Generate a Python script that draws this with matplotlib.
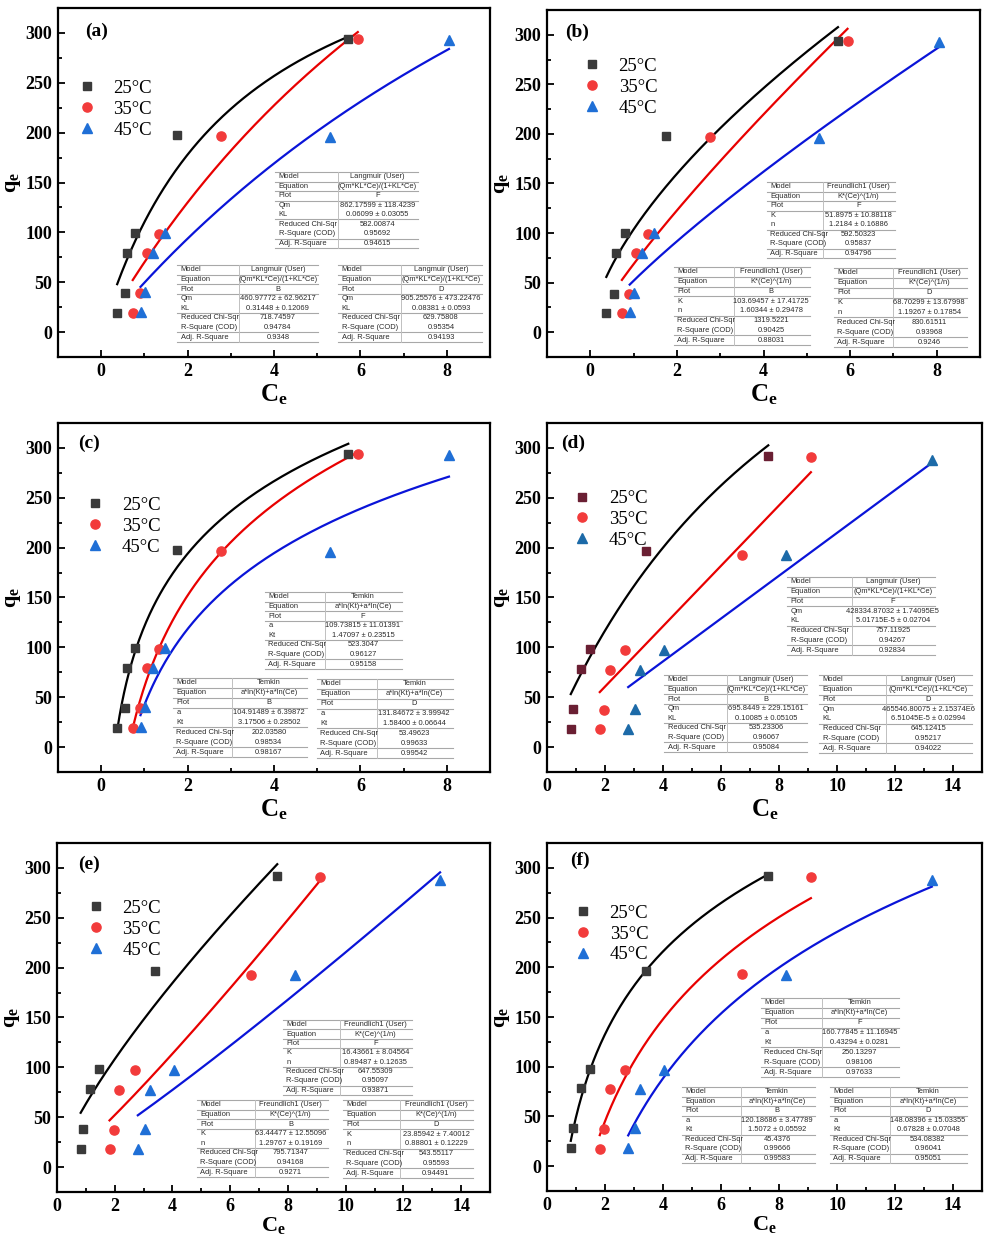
import numpy as np
import matplotlib
matplotlib.use("Agg")
import matplotlib.pyplot as plt
from matplotlib.ticker import MultipleLocator
from matplotlib.patches import Rectangle
from matplotlib.lines import Line2D

plt.rcParams.update({
    "font.family": ["Liberation Serif", "DejaVu Serif"],
    "mathtext.fontset": "custom",
    "mathtext.rm": "Liberation Serif",
    "mathtext.bf": "Liberation Serif:bold",
    "mathtext.it": "Liberation Serif:italic",
})

# ---------------- equilibrium data ----------------
temps = ["25°C", "35°C", "45°C"]
plot_ids = ["B", "D", "F"]

# first series (panels a-c)
ce_25_1 = [0.37, 0.54, 0.60, 0.79, 1.75, 5.72]
qe_25_1 = [19.4, 39.0, 79.5, 99.6, 197.8, 293.7]
ce_35_1 = [0.73, 0.90, 1.05, 1.33, 2.77, 5.94]
qe_35_1 = [19.4, 39.0, 79.5, 98.6, 196.8, 293.7]
ce_45_1 = [0.91, 1.02, 1.19, 1.48, 5.29, 8.05]
qe_45_1 = [20.0, 40.0, 79.5, 99.6, 195.8, 293.0]

# second series (panels d-f)
ce_25_2 = [0.82, 0.91, 1.16, 1.47, 3.41, 7.63]
qe_25_2 = [18.4, 38.1, 78.6, 98.0, 196.3, 292.0]
ce_35_2 = [1.82, 1.98, 2.16, 2.69, 6.71, 9.10]
qe_35_2 = [17.7, 37.5, 77.6, 97.0, 193.0, 290.6]
ce_45_2 = [2.80, 3.05, 3.22, 4.04, 8.23, 13.27]
qe_45_2 = [18.4, 38.5, 77.6, 97.0, 192.6, 287.6]

# ---------------- fitted isotherm parameters (B = 25, D = 35, F = 45 °C) ----------------
langmuir_1 = {
    "B": ["460.97772 ± 62.96217", "0.31448 ± 0.12069", "718.74597", "0.94784", "0.9348"],
    "D": ["905.25576 ± 473.22476", "0.08381 ± 0.0593", "629.75808", "0.95354", "0.94193"],
    "F": ["862.17599 ± 118.4239", "0.06099 ± 0.03055", "582.00874", "0.95692", "0.94615"],
}
freundlich_1 = {
    "B": ["103.69457 ± 17.41725", "1.60344 ± 0.29478", "1319.5221", "0.90425", "0.88031"],
    "D": ["68.70299 ± 13.67998", "1.19267 ± 0.17854", "830.61511", "0.93968", "0.9246"],
    "F": ["51.8975 ± 10.88118", "1.2184 ± 0.16886", "592.50323", "0.95837", "0.94796"],
}
temkin_1 = {
    "B": ["104.91489 ± 6.39872", "3.17506 ± 0.28502", "202.03580", "0.98534", "0.98167"],
    "D": ["131.84672 ± 3.99942", "1.58400 ± 0.06644", "53.49623", "0.99633", "0.99542"],
    "F": ["109.73815 ± 11.01391", "1.47097 ± 0.23515", "523.3047", "0.96127", "0.95158"],
}
langmuir_2 = {
    "B": ["695.8449 ± 229.15161", "0.10085 ± 0.05105", "535.23306", "0.96067", "0.95084"],
    "D": ["465546.80075 ± 2.15374E6", "6.51045E-5 ± 0.02994", "645.12415", "0.95217", "0.94022"],
    "F": ["428334.87032 ± 1.74095E5", "5.01715E-5 ± 0.02704", "757.11925", "0.94267", "0.92834"],
}
freundlich_2 = {
    "B": ["63.44477 ± 12.55096", "1.29767 ± 0.19169", "795.71347", "0.94168", "0.9271"],
    "D": ["23.85942 ± 7.40012", "0.88801 ± 0.12229", "543.55117", "0.95593", "0.94491"],
    "F": ["16.43661 ± 8.04564", "0.89487 ± 0.12635", "647.55309", "0.95097", "0.93871"],
}
temkin_2 = {
    "B": ["120.18686 ± 3.47789", "1.5072 ± 0.05592", "45.4376", "0.99666", "0.99583"],
    "D": ["148.08396 ± 15.03355", "0.67828 ± 0.07048", "534.08382", "0.96041", "0.95051"],
    "F": ["160.77845 ± 11.16945", "0.43294 ± 0.0281", "250.13297", "0.98106", "0.97633"],
}


def langmuir(ce, qm, kl):
    return qm * kl * ce / (1 + kl * ce)


def freundlich(ce, k, n):
    return k * ce ** (1.0 / n)


def temkin(ce, a, kt):
    return a * np.log(kt * ce)


MODELS = {
    "langmuir": ("Langmuir (User)", "(Qm*KL*Ce)/(1+KL*Ce)", ["Qm", "KL"], langmuir),
    "freundlich": ("Freundlich1 (User)", "K*(Ce)^(1/n)", ["K", "n"], freundlich),
    "temkin": ("Temkin", "a*ln(Kt)+a*ln(Ce)", ["a", "Kt"], temkin),
}

FIG_W, FIG_H = 984, 1235
fig = plt.figure(figsize=(FIG_W / 100, FIG_H / 100), dpi=100)
fig.patch.set_facecolor("white")


def px_axes(x0, y0, x1, y1):
    return fig.add_axes([x0 / FIG_W, 1 - y1 / FIG_H, (x1 - x0) / FIG_W, (y1 - y0) / FIG_H])


def value_of(txt):
    return float(txt.split("±")[0].strip())


def draw_table(box, model_key, plot_id, entry):
    name, eq, pnames, _ = MODELS[model_key]
    x0, y0, x1, y1 = box
    fx0, fx1 = x0 / FIG_W, x1 / FIG_W
    fy0, fy1 = 1 - y0 / FIG_H, 1 - y1 / FIG_H
    w, h = fx1 - fx0, fy0 - fy1
    fig.add_artist(Rectangle((fx0, fy1), w, h, transform=fig.transFigure,
                             facecolor="white", edgecolor="none", zorder=5))
    rows = [("Model", name), ("Equation", eq), ("Plot", plot_id),
            (pnames[0], entry[0]), (pnames[1], entry[1]),
            ("Reduced Chi-Sqr", entry[2]), ("R-Square (COD)", entry[3]),
            ("Adj. R-Square", entry[4])]
    rh = h / len(rows)
    for i, (lab, val) in enumerate(rows):
        yc = fy0 - (i + 0.5) * rh
        fig.text(fx0 + 0.025 * w, yc, lab, transform=fig.transFigure, fontsize=5.4,
                 family="Liberation Sans", color="#2a2a2a", va="center", ha="left", zorder=6)
        fig.text(fx0 + 0.715 * w, yc, val, transform=fig.transFigure, fontsize=5.4,
                 family="Liberation Sans", color="#2a2a2a", va="center", ha="center", zorder=6)
    for i in [0, 1, 2, 3, 5, 7, 8]:
        yl = fy0 - i * rh
        fig.add_artist(Line2D([fx0, fx1], [yl, yl], transform=fig.transFigure,
                              color="#a8a8a8", lw=0.8, zorder=6))
    xs = fx0 + 0.44 * w
    fig.add_artist(Line2D([xs, xs], [fy0, fy1], transform=fig.transFigure,
                          color="#c0c0c0", lw=0.7, zorder=6))


panels = [
    dict(tag="(a)", box=(58, 8, 490, 357), data=1, model="langmuir", fits=langmuir_1,
         tables={"F": (275, 172, 418, 248), "B": (177, 265, 318, 342), "D": (338, 265, 482, 342)},
         leg=(0.046, 0.794), lab=(0.062, 0.934), xl=-0.072, xfs=18),
    dict(tag="(b)", box=(547, 10, 980, 357), data=1, model="freundlich", fits=freundlich_1,
         tables={"F": (767, 182, 895, 258), "B": (674, 267, 810, 345), "D": (834, 268, 967, 347)},
         leg=(0.083, 0.862), lab=(0.042, 0.937), xl=-0.072, xfs=18),
    dict(tag="(c)", box=(58, 423, 490, 772), data=1, model="temkin", fits=temkin_1,
         tables={"F": (265, 592, 402, 669), "B": (173, 678, 307, 757), "D": (317, 679, 453, 758)},
         leg=(0.065, 0.789), lab=(0.046, 0.943), xl=-0.072, xfs=18),
    dict(tag="(d)", box=(547, 423, 982, 772), data=2, model="langmuir", fits=langmuir_2,
         tables={"F": (787, 577, 935, 655), "B": (664, 675, 807, 752), "D": (819, 675, 972, 753)},
         leg=(0.060, 0.808), lab=(0.032, 0.943), xl=-0.072, xfs=18),
    dict(tag="(e)", box=(57, 843, 490, 1192), data=2, model="freundlich", fits=freundlich_2,
         tables={"F": (283, 1020, 412, 1095), "B": (197, 1100, 328, 1177), "D": (343, 1100, 473, 1178)},
         leg=(0.069, 0.837), lab=(0.048, 0.94), xl=-0.066, xfs=16),
    dict(tag="(f)", box=(547, 843, 982, 1191), data=2, model="temkin", fits=temkin_2,
         tables={"F": (761, 998, 899, 1077), "B": (682, 1087, 815, 1163), "D": (830, 1087, 967, 1163)},
         leg=(0.062, 0.823), lab=(0.053, 0.951), xl=-0.066, xfs=16),
]

series = {
    1: [(ce_25_1, qe_25_1), (ce_35_1, qe_35_1), (ce_45_1, qe_45_1)],
    2: [(ce_25_2, qe_25_2), (ce_35_2, qe_35_2), (ce_45_2, qe_45_2)],
}

markers = ["s", "o", "^"]
msizes = [6.0, 6.6, 6.8]
curve_colors = ["black", "#e80000", "#0a14d8"]

for p in panels:
    ax = px_axes(*p["box"])
    if p["tag"] == "(d)":
        mcolors = ["#6a1f33", "#f23b3b", "#1c6aa8"]
    else:
        mcolors = ["#3a3a3a", "#f23b3b", "#1f6fd6"]
    func = MODELS[p["model"]][3]
    handles = []
    for i, (ce, qe) in enumerate(series[p["data"]]):
        h, = ax.plot(ce, qe, ls="none", marker=markers[i], ms=msizes[i],
                     color=mcolors[i], mec=mcolors[i], label=temps[i], zorder=4)
        handles.append(h)
        prm = p["fits"][plot_ids[i]]
        xx = np.linspace(min(ce), max(ce), 200)
        ax.plot(xx, func(xx, value_of(prm[0]), value_of(prm[1])),
                color=curve_colors[i], lw=1.6, zorder=3)

    if p["data"] == 1:
        ax.set_xlim(-1, 9)
    else:
        ax.set_xlim(0, 15)
    ax.xaxis.set_major_locator(MultipleLocator(2))
    ax.xaxis.set_minor_locator(MultipleLocator(1))
    ax.set_ylim(-25, 325)
    ax.yaxis.set_major_locator(MultipleLocator(50))
    ax.yaxis.set_minor_locator(MultipleLocator(25))
    ax.tick_params(which="both", direction="in", width=1.3)
    ax.tick_params(which="major", length=5, labelsize=13, pad=4)
    ax.tick_params(which="minor", length=3)
    for lbl in ax.get_xticklabels() + ax.get_yticklabels():
        lbl.set_fontweight("bold")
    for s in ax.spines.values():
        s.set_linewidth(1.6)

    ax.set_xlabel(r"$\mathbf{C}_\mathbf{e}$", fontsize=p["xfs"])
    ax.xaxis.set_label_coords(0.5, p["xl"])
    ax.set_ylabel(r"$\mathbf{q}_\mathbf{e}$", fontsize=16)
    ax.yaxis.set_label_coords(-0.081, 0.5)

    ax.text(p["lab"][0], p["lab"][1], p["tag"], transform=ax.transAxes,
            fontsize=14, fontweight="bold", va="center", ha="left")

    ax.legend(handles=handles, loc="upper left", bbox_to_anchor=p["leg"],
              frameon=False, fontsize=13.5, handlelength=1.0, handletextpad=0.9,
              labelspacing=0.2, borderpad=0, borderaxespad=0)

    for pid in ["F", "B", "D"]:
        draw_table(p["tables"][pid], p["model"], pid, p["fits"][pid])

fig.savefig("out.png", dpi=100, facecolor="white")
